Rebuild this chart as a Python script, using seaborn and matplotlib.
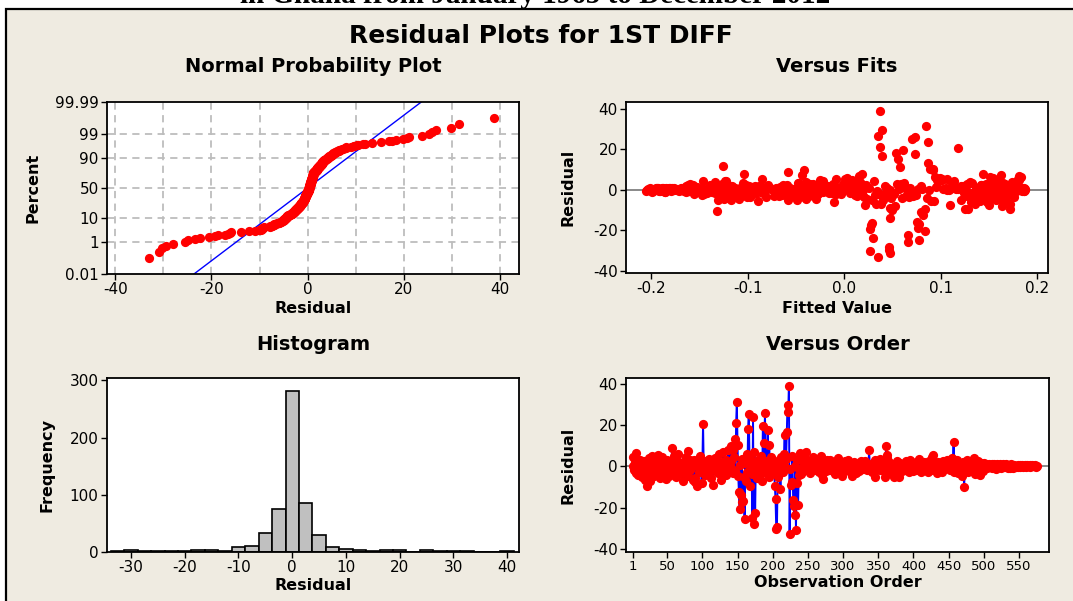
import statistics
import numpy as np
import pandas as pd
import matplotlib
matplotlib.use("Agg")
import matplotlib.pyplot as plt
from matplotlib.patches import Rectangle
import seaborn as sns

# ---------------- data ----------------
# residuals in observation order
resid_1_140 = [
    0.2, 4.8, -1.5, 2.1, 6.6, -3.2, 0.5, -4.1, 1.0, -0.6,
    3.0, -2.4, 0.8, -5.2, -4.5, -0.3, 2.8, -6.8, 0.4, -1.1,
    -9.4, -3.5, 1.2, 4.1, -7.2, 0.3, -2.2, 5.3, -0.5, 1.6,
    -4.6, 0.7, 2.5, -1.0, 3.4, -0.2, 5.6, -2.9, 0.9, -5.5,
    1.4, -0.4, 4.4, 0.6, -3.8, -2.2, -0.8, 0.1, -6.0, 3.1,
    -1.3, 0.5, -4.8, 1.1, 2.6, -0.7, 9.0, -2.6, 5.0, -0.1,
    0.9, -5.0, 3.6, -0.6, 1.8, 6.2, -1.8, 0.2, -3.0, 0.8,
    -0.4, 2.0, -7.0, 1.0, 0.3, -2.0, 4.6, -0.9, 7.4, -4.4,
    0.6, -1.6, 2.9, -0.3, 1.2, -6.6, 0.5, 3.3, -7.5, -5.8,
    1.0, -9.4, 0.2, 2.4, -2.7, 5.2, -0.5, 1.5, -7.8, 0.7,
    20.7, -1.2, 0.4, -4.0, 2.7, -0.2, 1.1, -2.3, 0.6, 3.8,
    -0.7, -5.4, 0.9, 1.7, -9.2, 0.3, -1.9, 4.0, -0.4, 2.3,
    0.8, -3.4, 1.3, 6.0, -0.6, 0.1, -6.4, 2.0, -0.9, 6.8,
    -1.4, 0.6, 3.2, -4.3, 1.0, -0.3, 7.9, -2.8, 0.5, 9.7,
]
resid_141_240 = [
    2.4, -1.0, 7.8, -3.0, 4.5, 13.4, -2.2, 21.0, 31.4, 10.5,
    -4.6, -12.3, -20.5, 0.8, -13.8, 3.5, -17.2, -16.6, -5.0, -25.5,
    1.5, -7.0, 5.8, -2.8, 18.3, 25.2, 4.2, -9.5, 0.3, -3.6,
    -24.8, 23.8, -28.0, 6.8, -22.4, 2.0, -5.6, -1.7, 3.2, -0.6,
    1.9, -4.2, 0.9, 5.1, -6.9, 19.7, -2.5, 11.4, 25.9, -1.4,
    2.7, -0.2, 17.6, -4.9, 10.2, 1.1, -3.3, 4.8, 0.4, -2.0,
    3.0, -0.8, -9.7, -15.9, -30.2, -29.5, -5.3, 2.2, 0.6, -1.9,
    -11.0, 4.4, -0.5, 1.6, -2.6, 5.9, 15.2, -0.1, 3.4, 16.9,
    29.7, 26.6, 38.8, -33.0, -1.3, -9.0, -7.4, 5.3, -16.1, -19.3,
    -23.5, 0.0, -31.0, -7.9, 2.9, -18.6, -4.0, -1.2, 6.5, -3.9,
]
resid_241_300 = [
    -0.8, 3.1, -2.4, 0.5, 4.9, 1.0, 7.2, -1.6, 0.3, 2.6,
    -0.7, 0.9, -3.1, 1.8, 0.2, -0.5, 4.6, 0.7, -1.9, 2.2,
    -0.3, 0.6, 3.7, -1.0, 0.1, -2.7, 1.2, 5.2, -0.4, -4.3,
    0.8, -6.0, 1.5, -0.9, -2.1, 0.4, 2.9, -0.2, 1.1, -1.5,
    0.5, 3.3, -0.6, 0.0, -2.0, 1.9, -0.1, 0.9, -3.5, 2.4,
    -0.8, 0.3, 4.1, -1.1, 1.0, -1.4, 2.0, -0.5, -4.6, 1.4,
]
resid_301_450 = [
    1.2, -0.5, 2.8, 0.3, -1.7, 0.9, 3.0, -0.2, -2.3, 0.6,
    1.0, -4.8, 0.1, -0.9, 2.1, -1.4, 0.4, -3.0, 1.0, 0.7,
    -0.3, 1.9, -2.0, 0.5, 2.6, -0.6, 0.0, -1.3, 1.1, 0.2,
    2.4, -0.8, 0.6, -1.9, 1.3, 0.3, 8.0, -0.4, 0.7, 0.9,
    -2.6, 0.2, 1.6, -0.5, 2.9, -4.9, 0.8, -0.1, 0.4, -1.0,
    0.4, 3.4, -1.6, 0.1, 0.8, -0.7, 0.9, -2.2, 2.0, -5.2,
    9.7, 4.3, 5.6, 0.3, 2.2, -0.9, 0.5, -3.4, 1.0, -0.2,
    -1.8, 0.6, -5.3, 1.3, -4.6, -0.4, 2.5, -1.1, -5.0, 0.7,
    1.9, -0.3, -2.4, 0.8, 0.6, -0.6, 0.2, -1.5, 2.7, 0.0,
    -0.8, 1.2, -2.9, 0.4, 3.1, -0.2, 1.5, -1.2, 0.6, -2.1,
    0.9, -0.5, 2.3, -1.7, 0.1, 1.0, -0.9, 3.6, -0.1, 0.5,
    -2.8, 1.7, 0.3, -0.6, 2.0, -1.4, 0.8, -0.3, 0.9, -2.5,
    0.6, 2.6, -0.7, 1.1, -1.9, 4.5, 0.2, 5.4, -1.0, 0.4,
    1.8, -0.4, 0.9, -3.2, 2.2, -0.8, 0.3, -1.6, 0.5, -2.7,
    0.7, 2.8, -0.2, -1.3, 1.0, 0.5, -0.9, 3.2, -0.6, 1.9,
]
resid_451_500 = [
    0.5, -1.8, 2.3, -0.4, 3.9, 1.0, 12.0, -2.6, 0.2, 1.7,
    -0.9, 2.9, -3.3, 0.6, -0.1, 1.4, -2.0, 0.8, -4.4, 0.3,
    2.1, -10.2, -0.6, 1.1, -1.5, 3.0, 0.0, -2.9, 0.7, 1.9,
    -0.3, 2.6, -1.2, 0.4, -2.2, 4.2, 0.9, -3.6, 1.3, -0.7,
    0.5, 2.4, -1.4, 0.1, -4.0, 1.6, -0.8, 0.2, -2.4, 1.5,
]
resid_501_575 = [
    0.8, -0.6, 1.1, 0.2, -0.9, 0.5, 1.2, -0.3, 0.9, 0.1,
    -0.7, 1.0, 0.4, 1.2, -0.2, 0.7, -1.0, 0.3, 1.1, 0.6,
    -0.4, 0.9, 1.2, 0.0, -0.8, 0.6, 1.0, -0.5, 0.4, 0.8,
    1.1, -0.3, 0.2, -0.9, 0.7, 0.1, -0.6, 0.5, 1.0, -0.2,
    0.3, -0.7, 0.6, 0.0, -0.4, 0.4, 0.2, -0.5, 0.7, 0.1,
    0.5, -0.1, 0.3, 0.6, -0.3, 0.2, 0.4, 0.0, 0.5, -0.2,
    0.6, 0.1, 0.3, 0.4, -0.1, 0.5, 0.2, 0.6, 0.3, 0.1,
    0.4, 0.2, 0.5, -0.2, 0.3,
]

# fitted values (in thousandths), same observation order
fit_1_140 = [
    152, 181, 140, 166, 183, 129, 171, 158, 112, 175,
    147, 163, 186, 121, 134, 178, 155, 172, 104, 168,
    125, 149, 184, 161, 110, 173, 137, 180, 156, 143,
    165, 118, 176, 150, 131, 187, 160, 127, 179, 141,
    170, 153, 114, 185, 162, 138, 174, 106, 148, 167,
    133, 182, 157, 120, 176, 145, -58, 169, 101, 159,
    177, 139, 164, 186, 123, 151, 171, 109, 160, 180,
    146, 168, 135, 183, 116, 174, 154, 128, 162, 143,
    185, 124, 158, 172, 137, 166, 179, 112, 150, 131,
    169, 172, 181, 142, 159, 107, 176, 148, 163, 184,
    118, 136, 171, 153, 127, 180, 145, 165, 102, 174,
    157, 139, 183, 121, 128, 149, 167, 130, 186, 142,
    161, 176, 115, 154, 184, 138, 170, 126, 163, 181,
    147, 173, 132, 158, 105, 178, 144, 169, 187, 92,
]
fit_141_240 = [
    12, 45, 18, 64, 31, 87, 52, 37, 85, 92,
    24, 82, 84, 68, 47, 9, 28, 77, 40, 66,
    95, 33, 3, 71, 54, 70, 98, 84, 57, 21,
    78, 87, 46, 15, 66, 42, 90, 6, 62, 34,
    80, 49, 26, 96, 38, 61, 74, 58, 73, 11,
    55, 88, 73, 29, 89, 44, 67, 8, 81, 36,
    59, 19, 50, 75, 27, 46, 93, 23, 76, 41,
    80, 97, 14, 63, 32, 99, 56, 48, 4, 39,
    39, 35, 37, 35, 72, 47, 22, 101, 29, 27,
    30, 65, 47, 53, 17, 76, 86, 43, 94, 60,
]
fit_241_300 = [
    -12, 5, -38, 17, -25, -4, -44, 10, -31, 2,
    -18, -47, 13, -9, -35, 19, -22, -2, -41, 8,
    -15, -28, 16, -6, -49, 11, -33, 1, -20, -40,
    7, -11, -45, 14, -27, -3, -37, 20, -16, -30,
    4, -23, -48, 9, -8, -34, 18, -13, -42, 0,
    -26, 12, -39, -5, -19, 15, -46, -10, -29, 6,
]
fit_301_450 = [
    -62, -118, -35, -141, -84, -9, -127, -53, -96, -21,
    -108, -58, -146, -40, -88, -13, -132, -67, -25, -115,
    -57, -99, -3, -136, -79, -44, -121, -16, -90, -148,
    -31, -70, -112, -49, -139, -6, -104, -82, -27, -125,
    -64, -143, -18, -93, -38, -117, -56, -129, -11, -86,
    -101, -47, -134, -23, -77, -150, -60, -106, -34, -49,
    -42, -122, -8, -97, -59, -137, -29, -81, -113, -50,
    -145, -15, -89, -66, -124, -37, -102, -4, -131, -75,
    -20, -110, -54, -139, -83, -26, -119, -65, -1, -94,
    -128, -45, -73, -107, -12, -142, -58, -91, -33, -120,
    -80, -2, -135, -61, -98, -24, -149, -48, -114, -69,
    -36, -126, -87, -10, -103, -55, -140, -19, -78, -111,
    -133, -63, -28, -95, -46, -123, -7, -85, -144, -52,
    -17, -100, -71, -130, -39, -92, -14, -116, -57, -147,
    -76, -32, -109, -5, -138, -68, -22, -105, -51, -86,
]
fit_451_500 = [
    -141, -98, -157, -112, -134, -163, -125, -104, -150, -92,
    -119, -160, -101, -145, -128, -95, -155, -137, -109, -148,
    -116, -132, -161, -99, -142, -121, -153, -107, -130, -164,
    -94, -139, -113, -158, -103, -146, -126, -97, -152, -135,
    -111, -162, -91, -144, -123, -156, -106, -140, -118, -159,
]
fit_501_575 = [
    -176, -158, -193, -167, -185, -152, -201, -171, -189, -162,
    -198, -180, -155, -195, -173, -187, -164, -203, -178, -160,
    -191, -169, -184, -154, -199, -175, -188, -166, -196, -181,
    -157, -192, -172, -186, -163, -200, -179, -151, -194, -168,
    -183, -205, -174, -190, -161, -197, -177, -186, -165, -202,
    -170, -193, -181, -159, -199, -176, -188, -204, -167, -184,
    -196, -173, -190, -182, -201, -169, -194, -178, -187, -200,
    -191, -203, -185, -197, -180,
]

percent_ticks = [0.01, 1, 10, 50, 90, 99, 99.99]
percent_labels = ["0.01", "1", "10", "50", "90", "99", "99.99"]
order_ticks = [1, 50, 100, 150, 200, 250, 300, 350, 400, 450, 500, 550]
fit_ticks = [-0.2, -0.1, 0.0, 0.1, 0.2]
fit_labels = ["-0.2", "-0.1", "0.0", "0.1", "0.2"]

residuals = np.array(resid_1_140 + resid_141_240 + resid_241_300 +
                     resid_301_450 + resid_451_500 + resid_501_575)
fitted = np.array(fit_1_140 + fit_141_240 + fit_241_300 +
                  fit_301_450 + fit_451_500 + fit_501_575) / 1000.0
order = np.arange(1, len(residuals) + 1)
df = pd.DataFrame({"order": order, "fitted": fitted, "resid": residuals})

# normal scores with median ranks
n = len(residuals)
nd = statistics.NormalDist()
sorted_res = np.sort(residuals)
ranks = (np.arange(1, n + 1) - 0.3) / (n + 0.4)
zscores = np.array([nd.inv_cdf(p) for p in ranks])
prob_df = pd.DataFrame({"resid": sorted_res, "z": zscores})
mu, sd = residuals.mean(), residuals.std(ddof=1)
z_line = np.array([-4.0, 4.0])
line_df = pd.DataFrame({"x": mu + sd * z_line, "z": z_line})

# ---------------- style ----------------
sns.set_style("ticks")
plt.rcParams["font.family"] = ["DejaVu Sans"]
plt.rcParams["axes.unicode_minus"] = False
plt.rcParams["axes.linewidth"] = 1.3
plt.rcParams["axes.edgecolor"] = "black"
plt.rcParams["text.color"] = "black"
plt.rcParams["axes.labelcolor"] = "black"
plt.rcParams["xtick.color"] = "black"
plt.rcParams["ytick.color"] = "black"

W, H = 1073, 601
BG = "#EFEBE1"
RED = "#FF0000"
BLUE = "#0000FF"
TICK_FS = 11
LAB_FS = 11.5
TITLE_FS = 14

fig = plt.figure(figsize=(W / 100, H / 100), dpi=100, facecolor="white")

# framed panel background (behind the axes)
frame = Rectangle((6 / W, -0.1), 1.2, 1 - 9 / H + 0.1,
                  transform=fig.transFigure, facecolor=BG,
                  edgecolor="black", linewidth=1.6, zorder=-10)
fig.patches.append(frame)

fig.text(535 / W, 1 - 3 / H, "in Ghana from January 1965 to December 2012",
         ha="center", va="baseline", fontsize=21, fontweight="bold",
         family="Liberation Serif", color="black")
fig.text(541 / W, 1 - 36 / H, "Residual Plots for 1ST DIFF", ha="center",
         va="center", fontsize=18, fontweight="bold", color="black")


def add_panel(l, t, r, b):
    ax = fig.add_axes([l / W, 1 - b / H, (r - l) / W, (b - t) / H])
    ax.set_facecolor("white")
    for s in ax.spines.values():
        s.set_visible(True)
        s.set_color("black")
        s.set_linewidth(1.3)
    ax.tick_params(direction="out", length=4, width=1, labelsize=TICK_FS,
                   pad=2, top=False, right=False, colors="black")
    return ax


def decorate(ax, title, xlabel, ylabel, title_y, xlab_y, ylab_x):
    ax.set_title(title, fontsize=TITLE_FS, fontweight="bold", y=title_y,
                 va="center", color="black")
    ax.set_xlabel(xlabel, fontsize=LAB_FS, fontweight="bold", color="black")
    ax.set_ylabel(ylabel, fontsize=LAB_FS, fontweight="bold", color="black")
    ax.xaxis.set_label_coords(0.5, xlab_y)
    ax.yaxis.set_label_coords(ylab_x, 0.5)
    ax.xaxis.label.set_va("center")
    ax.yaxis.label.set_va("center")


# ---- Normal probability plot ----
ax1 = add_panel(107, 102, 519, 274)
ztick = [nd.inv_cdf(p / 100) for p in percent_ticks]
for xv in range(-40, 41, 10):
    ax1.axvline(xv, color="#BDBDBD", lw=1.3, ls=(0, (4, 3)), zorder=0)
for zv in ztick[1:-1]:
    ax1.axhline(zv, color="#BDBDBD", lw=1.3, ls=(0, (4, 3)), zorder=0)
sns.lineplot(data=line_df, x="x", y="z", ax=ax1, color=BLUE, lw=1.0,
             sort=False, estimator=None, zorder=2)
sns.scatterplot(data=prob_df, x="resid", y="z", ax=ax1, color=RED, s=44,
                linewidth=0, zorder=3)
ax1.set_xlim(-41.7, 43.9)
ax1.set_ylim(ztick[0], ztick[-1])
ax1.set_xticks([-40, -20, 0, 20, 40])
ax1.set_yticks(ztick)
ax1.set_yticklabels(percent_labels)
decorate(ax1, "Normal Probability Plot", "Residual", "Percent",
         1.157, -0.198, -0.180)

# ---- Versus fits ----
ax2 = add_panel(626, 102, 1048, 273)
ax2.axhline(0, color="#808080", lw=1.3, zorder=1)
sns.scatterplot(data=df, x="fitted", y="resid", ax=ax2, color=RED, s=44,
                linewidth=0, zorder=3)
ax2.set_xlim(-0.2259, 0.2111)
ax2.set_ylim(-41.0, 43.4)
ax2.set_xticks(fit_ticks)
ax2.set_xticklabels(fit_labels)
ax2.set_yticks([-40, -20, 0, 20, 40])
decorate(ax2, "Versus Fits", "Fitted Value", "Residual",
         1.158, -0.205, -0.137)

# ---- Histogram ----
ax3 = add_panel(107, 378, 519, 552)
sns.histplot(data=df, x="resid", ax=ax3, binwidth=2.5,
             binrange=(-33.75, 41.25), color="#C0C0C0", edgecolor="black",
             linewidth=1.2, alpha=1.0)
ax3.set_xlim(-34.47, 42.2)
ax3.set_ylim(0, 304)
ax3.set_xticks([-30, -20, -10, 0, 10, 20, 30, 40])
ax3.set_yticks([0, 100, 200, 300])
decorate(ax3, "Histogram", "Residual", "Frequency",
         1.144, -0.195, -0.146)

# ---- Versus order ----
ax4 = add_panel(626, 378, 1049, 552)
ax4.axhline(0, color="#808080", lw=1.3, zorder=1)
sns.lineplot(data=df, x="order", y="resid", ax=ax4, color=BLUE, lw=1.4,
             sort=False, estimator=None, zorder=2)
sns.scatterplot(data=df, x="order", y="resid", ax=ax4, color=RED, s=44,
                linewidth=0, zorder=3)
ax4.set_xlim(-8.5, 592.6)
ax4.set_ylim(-41.5, 42.9)
ax4.set_xticks(order_ticks)
ax4.set_yticks([-40, -20, 0, 20, 40])
ax4.tick_params(axis="x", labelsize=9.5)
decorate(ax4, "Versus Order", "Observation Order", "Residual",
         1.144, -0.178, -0.137)

fig.savefig("out.png", dpi=100, facecolor="white")
